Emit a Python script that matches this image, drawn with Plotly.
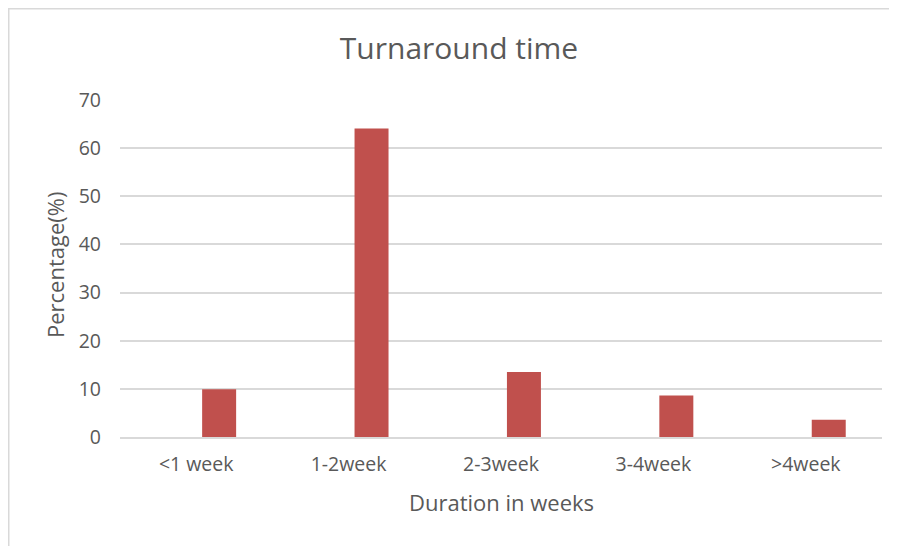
import plotly.graph_objects as go

categorias = ["<1 week", "1-2week", "2-3week", "3-4week", ">4week"]
porcentajes = [9.9, 64.1, 13.5, 8.6, 3.6]
y_ticks = [0, 10, 20, 30, 40, 50, 60, 70]

gris_texto = "#595959"
gris_linea = "#D9D9D9"
fuente = "Open Sans"

# la página tiene 8px de margen en el body, así que el lienzo es 8px más pequeño
ancho, alto = 889, 538
m_izq, m_der, m_sup, m_inf = 112, 15, 92, 109
ancho_plot = ancho - m_izq - m_der
alto_plot = alto - m_sup - m_inf

fig = go.Figure()
# en el original la barra queda un poco a la derecha del centro de la categoría
fig.add_trace(go.Bar(
    x=categorias,
    y=porcentajes,
    width=0.223,
    offset=0.039,
    marker_color="#C0504D",
    marker_line_width=0,
    hovertemplate="<b>%{x}</b><br>%{y}%<extra></extra>",
))

fig.update_layout(
    title=dict(text="Turnaround time", font=dict(family=fuente, color=gris_texto, size=30),
               x=451 / ancho, xanchor="center", y=1 - 40 / alto, yanchor="middle"),
    width=ancho,
    height=alto,
    paper_bgcolor="white",
    plot_bgcolor="white",
    font=dict(family=fuente, color=gris_texto, size=19.5),
    showlegend=False,
    margin=dict(l=m_izq, r=m_der, t=m_sup, b=m_inf, autoexpand=False),
    xaxis=dict(
        showgrid=False, showline=True, linecolor=gris_linea, linewidth=1.5,
        ticks="", ticklabelstandoff=9, tickfont=dict(size=19.5, color=gris_texto),
    ),
    yaxis=dict(
        range=[0, 70], tickvals=y_ticks, showgrid=True, gridcolor=gris_linea, gridwidth=1.5,
        zeroline=False, showline=False, ticks="", ticklabelstandoff=18,
        tickfont=dict(size=19.5, color=gris_texto),
    ),
    annotations=[
        dict(text="Duration in weeks", xref="paper", yref="paper",
             x=0.5, y=(alto_plot - (494 - m_sup)) / alto_plot, xanchor="center", yanchor="middle",
             showarrow=False, font=dict(size=22, color=gris_texto)),
        dict(text="Percentage(%)", xref="paper", yref="paper", textangle=-90,
             x=(47 - m_izq) / ancho_plot, y=(alto_plot - (257 - m_sup)) / alto_plot,
             xanchor="center", yanchor="middle",
             showarrow=False, font=dict(size=22, color=gris_texto)),
    ],
    shapes=[dict(type="rect", xref="paper", yref="paper",
                 x0=(0.75 - m_izq) / ancho_plot, x1=(ancho + 10 - m_izq) / ancho_plot,
                 y0=(alto_plot - (alto + 10 - m_sup)) / alto_plot,
                 y1=(alto_plot - (0.75 - m_sup)) / alto_plot,
                 line=dict(color=gris_linea, width=1.5), fillcolor="rgba(0,0,0,0)", layer="below")],
)

fig.write_html("out.html")
